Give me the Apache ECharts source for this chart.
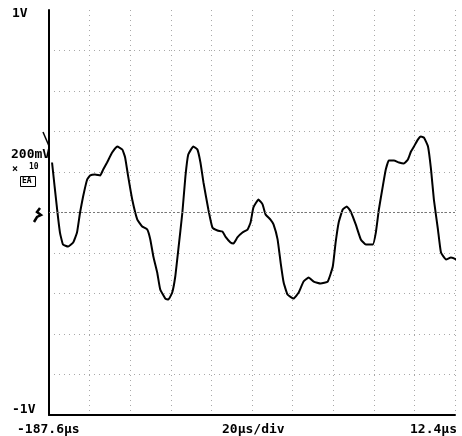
<!DOCTYPE html>
<html><head><meta charset="utf-8">
<script src="https://cdn.jsdelivr.net/npm/echarts@6/dist/echarts.min.js"></script>
<style>html,body{margin:0;padding:0;background:#fff}#c{width:462px;height:436px}</style>
</head><body><div id="c"></div>
<script>
// time from left edge of screen (µs), 20 µs/div, 10 div
const timeUs = [1.5,4.0,5.4,6.9,9.4,11.9,13.8,15.3,16.8,18.8,20.3,22.7,25.2,26.7,28.6,31.1,33.6,36.1,37.5,39.0,41.0,43.5,45.9,48.4,49.9,51.4,53.3,54.8,57.3,58.8,60.7,62.2,63.7,65.7,67.2,68.6,71.1,73.1,74.6,76.1,78.5,80.5,83.0,85.4,86.9,89.4,90.9,92.8,95.3,97.8,99.3,100.7,103.2,105.2,106.7,109.1,110.6,112.6,114.1,115.6,117.5,120.5,123.0,125.4,127.9,130.4,133.8,137.3,139.8,141.2,142.7,144.7,146.7,148.6,151.1,153.6,156.1,159.5,161.0,162.5,164.4,165.9,167.4,169.9,172.4,174.8,176.8,178.3,179.8,181.7,183.2,184.7,186.7,188.2,189.6,191.6,193.1,195.6,198.0,200.5,202.0];
const volts = [0.247,0.015,-0.099,-0.158,-0.168,-0.148,-0.099,0.0,0.079,0.163,0.183,0.188,0.183,0.212,0.247,0.296,0.326,0.311,0.272,0.178,0.064,-0.035,-0.069,-0.084,-0.133,-0.217,-0.296,-0.380,-0.425,-0.430,-0.395,-0.316,-0.183,0.0,0.178,0.286,0.326,0.311,0.247,0.148,0.015,-0.074,-0.089,-0.094,-0.119,-0.148,-0.153,-0.123,-0.099,-0.084,-0.049,0.025,0.064,0.040,-0.010,-0.035,-0.059,-0.133,-0.247,-0.346,-0.405,-0.425,-0.395,-0.341,-0.321,-0.341,-0.351,-0.341,-0.267,-0.148,-0.049,0.015,0.030,0.005,-0.059,-0.133,-0.158,-0.158,-0.099,0.015,0.128,0.212,0.257,0.257,0.247,0.242,0.262,0.301,0.326,0.360,0.375,0.370,0.326,0.212,0.064,-0.084,-0.198,-0.232,-0.222,-0.232,-0.247];
const yTopLabel = '1V';
const yBottomLabel = '-1V';
const xLeftLabel = '-187.6\u00b5s';
const xMidLabel = '20\u00b5s/div';
const xRightLabel = '12.4\u00b5s';
const chScale = '200mV';
const chProbe = '10';
const chName = 'EA';

const data = timeUs.map((t, i) => [t, volts[i]]);
const font = '"DejaVu Sans Mono", monospace';
const chart = echarts.init(document.getElementById('c'), null, {renderer: 'canvas'});
const grid = {left: 49, right: 7, top: 10, bottom: 21};
const gridLine = {show: true, lineStyle: {color: '#a8a8a8', width: 1, type: [1, 4]}};
chart.setOption({
  animation: false,
  backgroundColor: '#fff',
  grid: grid,
  xAxis: {
    type: 'value', min: 0, max: 200, interval: 20,
    axisLine: {show: true, onZero: false, lineStyle: {color: '#000', width: 2}},
    axisTick: {show: false}, axisLabel: {show: false},
    splitLine: Object.assign({showMinLine: false, showMaxLine: true}, gridLine)
  },
  yAxis: {
    type: 'value', min: -1, max: 1, interval: 0.2,
    axisLine: {show: true, onZero: false, lineStyle: {color: '#000', width: 2}},
    axisTick: {show: false}, axisLabel: {show: false},
    splitLine: Object.assign({showMinLine: false, showMaxLine: false}, gridLine)
  },
  series: [{
    type: 'line', data: data, showSymbol: false, clip: false, smooth: 0.12,
    lineStyle: {color: '#000', width: 2},
    markLine: {
      silent: true, symbol: ['none', 'none'], label: {show: false},
      lineStyle: {color: '#777', width: 1, type: [2, 2]},
      data: [{yAxis: 0}]
    }
  }],
  graphic: [
    {type: 'text', left: 12, top: 7, style: {text: yTopLabel, font: 'bold 13px ' + font, fill: '#000'}},
    {type: 'text', left: 12, top: 403, style: {text: yBottomLabel, font: 'bold 13px ' + font, fill: '#000'}},
    {type: 'text', left: 17, top: 423, style: {text: xLeftLabel, font: 'bold 13px ' + font, fill: '#000'}},
    {type: 'text', left: 222, top: 423, style: {text: xMidLabel, font: 'bold 13px ' + font, fill: '#000'}},
    {type: 'text', left: 410, top: 423, style: {text: xRightLabel, font: 'bold 13px ' + font, fill: '#000'}},
    {type: 'text', left: 11, top: 148, style: {text: chScale, font: 'bold 13px ' + font, fill: '#000'}},
    {type: 'text', left: 12, top: 164, style: {text: '\u00d7', font: 'bold 10px ' + font, fill: '#000'}},
    {type: 'text', left: 29, top: 163, style: {text: chProbe, font: 'bold 8px ' + font, fill: '#000'}},
    {type: 'rect', shape: {x: 20.5, y: 176.5, width: 15, height: 10}, style: {fill: 'none', stroke: '#000', lineWidth: 1}},
    {type: 'text', left: 22, top: 177, style: {text: chName, font: 'bold 8px ' + font, fill: '#000'}},
    {type: 'polyline', shape: {points: [[34, 222], [37, 217], [41, 215], [37, 212], [40, 208]]}, style: {stroke: '#000', lineWidth: 2.5, fill: 'none'}},
    {type: 'line', shape: {x1: 43, y1: 132, x2: 49, y2: 146}, style: {stroke: '#000', lineWidth: 1.5}}
  ]
});
</script></body></html>
